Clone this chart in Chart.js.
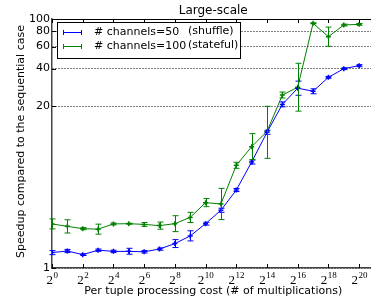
<!DOCTYPE html>
<html>
<head>
<meta charset="utf-8">
<script src="https://cdn.jsdelivr.net/npm/chart.js@4.4.0/dist/chart.umd.min.js"></script>
<style>
    html, body { margin: 0; padding: 0; overflow: hidden; background: #fff; }
    #wrap { width: 380px; height: 301px; position: relative; }
</style>
</head>
<body>
<div id="wrap"><canvas id="chartSpeedup"></canvas></div>
<script>
// Coste por tupla (número de multiplicaciones), 2^0 .. 2^20
const costs = [1, 2, 4, 8, 16, 32, 64, 128, 256, 512, 1024, 2048, 4096, 8192,
    16384, 32768, 65536, 131072, 262144, 524288, 1048576];

// # channels=50 (shuffle)
const speedupShuffle = [1.33, 1.37, 1.28, 1.39, 1.36, 1.36, 1.35, 1.42, 1.57, 1.81, 2.27,
    2.91, 4.23, 7.1, 12.3, 20.6, 27.8, 26.3, 34.0, 39.9, 42.2];
const shuffleLow = [1.28, 1.33, 1.26, 1.36, 1.33, 1.29, 1.32, 1.39, 1.46, 1.65, 2.21,
    2.80, 4.11, 6.84, 11.85, 19.7, 24.4, 25.1, 33.4, 39.2, 41.4];
const shuffleHigh = [1.38, 1.41, 1.30, 1.42, 1.39, 1.44, 1.38, 1.45, 1.69, 1.99, 2.33,
    3.02, 4.35, 7.37, 12.77, 21.6, 31.7, 27.5, 34.6, 40.6, 43.0];

// # channels=100 (stateful)
const speedupStateful = [2.26, 2.16, 2.07, 2.05, 2.26, 2.27, 2.24, 2.19, 2.27, 2.55, 3.35,
    3.27, 6.68, 9.43, 12.5, 24.5, 28.3, 92.3, 72.1, 89.5, 90.6];
const statefulLow = [2.06, 1.91, 2.03, 1.87, 2.22, 2.25, 2.16, 2.05, 1.96, 2.32, 3.11,
    2.45, 6.32, 7.41, 7.6, 23.2, 18.2, 91.5, 60.4, 88.0, 89.0];
const statefulHigh = [2.48, 2.44, 2.11, 2.25, 2.30, 2.29, 2.32, 2.34, 2.63, 2.80, 3.61,
    4.36, 7.06, 12.0, 19.9, 25.9, 44.1, 93.1, 86.1, 91.0, 92.0];

const xTicks = [1, 4, 16, 64, 256, 1024, 4096, 16384, 65536, 262144, 1048576];
const yTicks = [1, 20, 40, 60, 80, 100];

const speedupModule = {
    chart: null,

    colors: {
        shuffle: '#0000ff',
        stateful: '#008000',
        spine: '#444444'
    },

    fonts: {
        sans: '"DejaVu Sans", sans-serif',
        serif: '"Liberation Serif", "DejaVu Serif", serif'
    },

    // Barras de error verticales con sus topes
    errorBarPlugin: {
        id: 'errorBars',
        afterDatasetsDraw(chart) {
            const ctx = chart.ctx;
            const yScale = chart.scales.y;
            chart.data.datasets.forEach((ds, i) => {
                const meta = chart.getDatasetMeta(i);
                ctx.save();
                ctx.strokeStyle = ds.borderColor;
                ctx.lineWidth = 1;
                meta.data.forEach((pt, j) => {
                    const yLo = yScale.getPixelForValue(ds.errLow[j]);
                    const yHi = yScale.getPixelForValue(ds.errHigh[j]);
                    const x = Math.round(pt.x) + 0.5;
                    ctx.beginPath();
                    ctx.moveTo(x, yLo);
                    ctx.lineTo(x, yHi);
                    ctx.moveTo(x - 3, yLo);
                    ctx.lineTo(x + 3, yLo);
                    ctx.moveTo(x - 3, yHi);
                    ctx.lineTo(x + 3, yHi);
                    ctx.stroke();
                });
                ctx.restore();
            });
        }
    },

    // Marco superior, marcas de los ejes, etiquetas 2^n, título y leyenda
    decorPlugin: {
        id: 'decor',
        afterDraw(chart) {
            const ctx = chart.ctx;
            const area = chart.chartArea;
            const xScale = chart.scales.x;
            const yScale = chart.scales.y;
            const mod = speedupModule;
            ctx.save();

            // marco superior
            ctx.strokeStyle = '#000';
            ctx.lineWidth = 1;
            ctx.beginPath();
            ctx.moveTo(area.left, area.top + 0.5);
            ctx.lineTo(area.right, area.top + 0.5);
            ctx.stroke();

            // marcas hacia dentro
            ctx.beginPath();
            xTicks.forEach(v => {
                const x = Math.round(xScale.getPixelForValue(v)) + 0.5;
                ctx.moveTo(x, area.bottom);
                ctx.lineTo(x, area.bottom - 4);
                ctx.moveTo(x, area.top);
                ctx.lineTo(x, area.top + 4);
            });
            yTicks.forEach(v => {
                const y = Math.round(yScale.getPixelForValue(v)) + 0.5;
                ctx.moveTo(area.left, y);
                ctx.lineTo(area.left + 4, y);
            });
            ctx.stroke();

            // etiquetas del eje x: 2 con exponente
            ctx.fillStyle = '#000';
            ctx.textBaseline = 'alphabetic';
            xTicks.forEach(v => {
                const exp = String(Math.round(Math.log2(v)));
                ctx.font = '13px ' + mod.fonts.serif;
                const wBase = ctx.measureText('2').width;
                ctx.font = '9px ' + mod.fonts.serif;
                const wExp = ctx.measureText(exp).width;
                const x0 = xScale.getPixelForValue(v) - (wBase + wExp) / 2;
                ctx.font = '13px ' + mod.fonts.serif;
                ctx.textAlign = 'left';
                ctx.fillText('2', x0, area.bottom + 16);
                ctx.font = '9px ' + mod.fonts.serif;
                ctx.fillText(exp, x0 + wBase + 0.5, area.bottom + 10);
            });

            // título
            ctx.font = '12px ' + mod.fonts.sans;
            ctx.textAlign = 'center';
            ctx.fillText('Large-scale', (area.left + area.right) / 2, 13.5);

            // título del eje y
            ctx.save();
            ctx.translate(21, (area.top + area.bottom) / 2 - 2);
            ctx.rotate(-Math.PI / 2);
            ctx.font = '11px ' + mod.fonts.sans;
            ctx.textAlign = 'center';
            ctx.textBaseline = 'middle';
            ctx.fillText('Speedup compared to the sequential case', 0, 0);
            ctx.restore();

            // leyenda
            ctx.fillStyle = '#fff';
            ctx.fillRect(57.5, 22.5, 183, 36);
            ctx.strokeStyle = '#000';
            ctx.lineWidth = 1;
            ctx.strokeRect(57.5, 22.5, 183, 36);
            const entries = [
                { color: mod.colors.shuffle, label: '# channels=50', note: '(shuffle)', y: 32.5 },
                { color: mod.colors.stateful, label: '# channels=100', note: '(stateful)', y: 46.5 }
            ];
            entries.forEach(e => {
                ctx.strokeStyle = e.color;
                ctx.lineWidth = 1;
                ctx.beginPath();
                ctx.moveTo(63, e.y);
                ctx.lineTo(82, e.y);
                ctx.moveTo(63.5, e.y - 2.5);
                ctx.lineTo(63.5, e.y + 2.5);
                ctx.moveTo(81.5, e.y - 2.5);
                ctx.lineTo(81.5, e.y + 2.5);
                ctx.stroke();
                ctx.fillStyle = '#000';
                ctx.font = '11px ' + mod.fonts.sans;
                ctx.textAlign = 'left';
                ctx.textBaseline = 'middle';
                ctx.fillText(e.label, 94, e.y);
                ctx.fillText(e.note, 188, e.y - 1);
            });

            ctx.restore();
        }
    },

    buildDataset: function(label, values, low, high, color) {
        return {
            label: label,
            data: costs.map((c, i) => ({ x: c, y: values[i] })),
            errLow: low,
            errHigh: high,
            borderColor: color,
            backgroundColor: color,
            borderWidth: 1,
            pointStyle: 'cross',
            pointRadius: 2.5,
            pointBorderWidth: 1.5,
            tension: 0
        };
    },

    init: function() {
        const ctx = document.getElementById('chartSpeedup').getContext('2d');
        const fontSans = this.fonts.sans;

        this.chart = new Chart(ctx, {
            type: 'line',
            data: {
                datasets: [
                    this.buildDataset('# channels=50 (shuffle)', speedupShuffle, shuffleLow, shuffleHigh, this.colors.shuffle),
                    this.buildDataset('# channels=100 (stateful)', speedupStateful, statefulLow, statefulHigh, this.colors.stateful)
                ]
            },
            options: {
                responsive: true,
                maintainAspectRatio: false,
                animation: false,
                layout: { padding: { top: 19, right: 2, left: 0, bottom: 0 } },
                plugins: {
                    legend: { display: false },
                    title: { display: false },
                    tooltip: { enabled: false }
                },
                scales: {
                    x: {
                        type: 'logarithmic',
                        min: 1,
                        max: 2097152,
                        afterBuildTicks: (s) => { s.ticks = xTicks.map(v => ({ value: v })); },
                        afterFit: (s) => { s.height = 33; },
                        ticks: { display: false },
                        grid: { display: false },
                        border: { display: true, color: this.colors.spine, width: 1.5 },
                        title: {
                            display: true,
                            text: 'Per tuple processing cost (# of multiplications)',
                            color: '#000',
                            font: { family: fontSans, size: 11 },
                            padding: { top: 0, bottom: 3 }
                        }
                    },
                    y: {
                        type: 'logarithmic',
                        min: 1,
                        max: 100,
                        afterBuildTicks: (s) => { s.ticks = yTicks.map(v => ({ value: v })); },
                        afterFit: (s) => { s.width = 52; },
                        ticks: {
                            callback: (v) => String(v),
                            color: '#000',
                            font: { family: fontSans, size: 11 },
                            padding: 2
                        },
                        grid: { color: '#000', lineWidth: 1, drawTicks: false },
                        border: { display: true, color: this.colors.spine, width: 1.5, dash: [1, 2] }
                    }
                }
            },
            plugins: [this.errorBarPlugin, this.decorPlugin]
        });
    }
};

speedupModule.init();
</script>
</body>
</html>
